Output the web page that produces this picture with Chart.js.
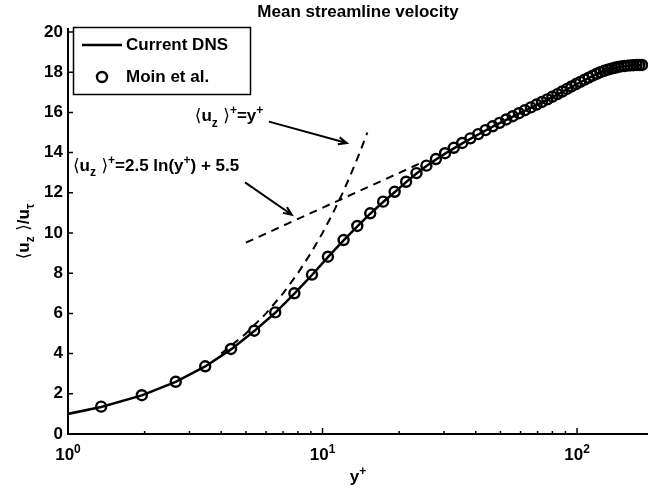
<!DOCTYPE html>
<html>
<head>
<meta charset="utf-8">
<script src="https://cdn.jsdelivr.net/npm/chart.js@4.4.1/dist/chart.umd.min.js"></script>
<style>
  html, body { margin: 0; padding: 0; background: #fff; }
</style>
</head>
<body>
<canvas id="chart" width="648" height="494"></canvas>
<script>
// ==================== DATA ====================

// Current DNS profile: y+ and <u_z>+
const dnsYPlus = [1, 1.35, 1.95, 2.65, 3.46, 4.37, 5.39, 6.52, 7.75, 9.09,
  10.5, 12.1, 13.7, 15.4, 17.3, 19.2, 21.3, 23.4, 25.6, 27.9,
  30.3, 35.4, 40.9, 46.6, 52.7, 59.1, 65.8, 72.8, 80, 87.5,
  95.1, 103, 111.1, 119.4, 127.7, 136.3, 144.9, 153.6, 162.4, 171.2, 180];
const dnsU = [1.0, 1.34, 1.92, 2.59, 3.36, 4.21, 5.12, 6.03, 6.98, 7.91,
  8.80, 9.63, 10.33, 10.96, 11.54, 12.03, 12.53, 12.96, 13.33, 13.66,
  13.95, 14.46, 14.90, 15.29, 15.63, 15.94, 16.23, 16.50, 16.76, 17.02,
  17.27, 17.50, 17.71, 17.90, 18.06, 18.17, 18.25, 18.30, 18.33, 18.35, 18.35];

// Moin et al. reference points
const moinYPlus = [1.35, 1.95, 2.65, 3.46, 4.37, 5.39, 6.52, 7.75, 9.09, 10.5,
  12.1, 13.7, 15.4, 17.3, 19.2, 21.3, 23.4, 25.6, 27.9, 30.3,
  32.8, 35.4, 38.1, 40.9, 43.7, 46.6, 49.6, 52.7, 55.9, 59.1,
  62.4, 65.8, 69.3, 72.8, 76.4, 80.0, 83.7, 87.5, 91.3, 95.1,
  99.1, 103.0, 107.1, 111.1, 115.2, 119.4, 123.5, 127.7, 132.0, 136.3,
  140.6, 144.9, 149.2, 153.6, 158.0, 162.4, 166.8, 171.2, 175.6, 180.0];
const moinU = [1.36, 1.93, 2.60, 3.37, 4.23, 5.14, 6.05, 7.00, 7.93, 8.82,
  9.65, 10.35, 10.98, 11.56, 12.05, 12.55, 12.98, 13.35, 13.68, 13.97,
  14.24, 14.48, 14.71, 14.92, 15.12, 15.31, 15.48, 15.65, 15.81, 15.96,
  16.11, 16.25, 16.39, 16.52, 16.65, 16.78, 16.91, 17.04, 17.17, 17.29,
  17.41, 17.52, 17.63, 17.73, 17.83, 17.92, 18.00, 18.07, 18.13, 18.18,
  18.22, 18.26, 18.29, 18.31, 18.33, 18.34, 18.35, 18.36, 18.36, 18.36];

// Viscous sublayer guide: <u_z>+ = y+
const linearYPlus = [4, 5, 6, 7, 8, 9, 10, 11, 12, 13, 14, 15];
const linearU = [4, 5, 6, 7, 8, 9, 10, 11, 12, 13, 14, 15];

// Log law guide: <u_z>+ = 2.5 ln(y+) + 5.5
const logLawYPlus = [5, 25];
const logLawU = [9.52, 13.55];

// Ticks
const yTicks = [0, 2, 4, 6, 8, 10, 12, 14, 16, 18, 20];
const xMajorTicks = [1, 10, 100];
const xMinorTicks = [2, 3, 4, 5, 6, 7, 8, 9, 20, 30, 40, 50, 60, 70, 80, 90];

// ==================== HELPERS ====================

const FONT = '"Liberation Sans", Arial, Helvetica, sans-serif';
const SIZE = 17;

function toPoints(xs, ys) {
  return xs.map((x, i) => ({ x: x, y: ys[i] }));
}

// parts: [text, kind]  kind = 'n' | 'sub' | 'sup' | 'sym'
function setPartFont(ctx, kind, size) {
  if (kind === 'sym') ctx.font = size + 'px "DejaVu Sans", sans-serif';
  else if (kind === 'sub' || kind === 'sup') ctx.font = 'bold ' + Math.round(size * 0.68) + 'px ' + FONT;
  else ctx.font = 'bold ' + size + 'px ' + FONT;
}

function richWidth(ctx, parts, size) {
  let w = 0;
  parts.forEach(([t, kind]) => { setPartFont(ctx, kind, size); w += ctx.measureText(t).width; });
  return w;
}

function drawRich(ctx, x, y, parts, size) {
  let cx = x;
  ctx.textBaseline = 'alphabetic';
  ctx.textAlign = 'left';
  parts.forEach(([t, kind]) => {
    setPartFont(ctx, kind, size);
    let dy = 0;
    if (kind === 'sub') dy = size * 0.3;
    if (kind === 'sup') dy = -size * 0.42;
    ctx.fillText(t, cx, y + dy);
    cx += ctx.measureText(t).width;
  });
}

function drawArrow(ctx, x1, y1, x2, y2) {
  const a = Math.atan2(y2 - y1, x2 - x1);
  const len = 9, spread = 0.4;
  ctx.beginPath();
  ctx.moveTo(x1, y1);
  ctx.lineTo(x2, y2);
  ctx.moveTo(x2 - len * Math.cos(a - spread), y2 - len * Math.sin(a - spread));
  ctx.lineTo(x2, y2);
  ctx.lineTo(x2 - len * Math.cos(a + spread), y2 - len * Math.sin(a + spread));
  ctx.stroke();
}

// annotations in data coordinates
const notes = [
  { x: 3.15, y: 15.55, parts: [['⟨', 'sym'], ['u', 'n'], ['z', 'sub'], [' ⟩', 'sym'], ['+', 'sup'], ['=y', 'n'], ['+', 'sup']],
    arrow: [6.16, 15.54, 12.45, 14.48] },
  { x: 1.046, y: 13.1, parts: [['⟨', 'sym'], ['u', 'n'], ['z', 'sub'], [' ⟩', 'sym'], ['+', 'sup'], ['=2.5 ln(y', 'n'], ['+', 'sup'], [') + 5.5', 'n']],
    arrow: [4.96, 12.52, 7.57, 10.91] }
];

// ==================== DECORATION PLUGIN ====================

const decorPlugin = {
  id: 'decor',
  afterDraw(chart) {
    const ctx = chart.ctx;
    const xs = chart.scales.x, ys = chart.scales.y, area = chart.chartArea;
    ctx.save();
    ctx.fillStyle = '#000';
    ctx.strokeStyle = '#000';

    // inward tick marks
    ctx.lineWidth = 1.5;
    ctx.beginPath();
    yTicks.forEach(v => {
      const py = ys.getPixelForValue(v);
      ctx.moveTo(area.left, py); ctx.lineTo(area.left + 5, py);
    });
    xMajorTicks.forEach(v => {
      const px = xs.getPixelForValue(v);
      ctx.moveTo(px, area.bottom); ctx.lineTo(px, area.bottom - 6);
    });
    xMinorTicks.forEach(v => {
      const px = xs.getPixelForValue(v);
      ctx.moveTo(px, area.bottom); ctx.lineTo(px, area.bottom - 3);
    });
    ctx.stroke();

    // x tick labels 10^n
    xMajorTicks.forEach(v => {
      const parts = [['10', 'n'], [String(Math.round(Math.log10(v))), 'sup']];
      const w = richWidth(ctx, parts, SIZE);
      drawRich(ctx, xs.getPixelForValue(v) - w / 2, area.bottom + 26, parts, SIZE);
    });

    // axis labels
    const xl = [['y', 'n'], ['+', 'sup']];
    drawRich(ctx, (area.left + area.right) / 2 - richWidth(ctx, xl, SIZE) / 2, area.bottom + 48, xl, SIZE);

    const yl = [['⟨', 'sym'], ['u', 'n'], ['z', 'sub'], [' ⟩', 'sym'], ['/u', 'n'], ['τ', 'sub']];
    ctx.save();
    ctx.translate(29, (area.top + area.bottom) / 2);
    ctx.rotate(-Math.PI / 2);
    drawRich(ctx, -richWidth(ctx, yl, SIZE) / 2, 0, yl, SIZE);
    ctx.restore();

    // title
    const title = [['Mean streamline velocity', 'n']];
    drawRich(ctx, (area.left + area.right) / 2 - richWidth(ctx, title, SIZE) / 2, 17, title, SIZE);

    // annotations + arrows
    ctx.lineWidth = 2;
    notes.forEach(n => {
      drawRich(ctx, xs.getPixelForValue(n.x), ys.getPixelForValue(n.y), n.parts, SIZE);
      const [ax1, ay1, ax2, ay2] = n.arrow;
      drawArrow(ctx, xs.getPixelForValue(ax1), ys.getPixelForValue(ay1),
        xs.getPixelForValue(ax2), ys.getPixelForValue(ay2));
    });

    // legend box
    const lx = area.left + 5, ly = area.top - 2, lw = 177, lh = 67;
    ctx.fillStyle = '#fff';
    ctx.fillRect(lx, ly, lw, lh);
    ctx.lineWidth = 1.5;
    ctx.strokeRect(lx + 0.5, ly + 0.5, lw, lh);
    ctx.fillStyle = '#000';
    ctx.lineWidth = 2.5;
    ctx.beginPath();
    ctx.moveTo(lx + 9, ly + 18); ctx.lineTo(lx + 49, ly + 18);
    ctx.stroke();
    ctx.lineWidth = 2.4;
    ctx.beginPath();
    ctx.arc(lx + 29, ly + 50, 5, 0, Math.PI * 2);
    ctx.stroke();
    ctx.font = 'bold ' + SIZE + 'px ' + FONT;
    ctx.textBaseline = 'middle';
    ctx.fillText('Current DNS', lx + 53, ly + 18);
    ctx.fillText('Moin et al.', lx + 53, ly + 50);

    ctx.restore();
  }
};

// ==================== CHART ====================

const ctx = document.getElementById('chart').getContext('2d');
const chart = new Chart(ctx, {
  type: 'scatter',
  data: {
    datasets: [
      {
        label: 'Current DNS',
        data: toPoints(dnsYPlus, dnsU),
        showLine: true,
        borderColor: '#000',
        borderWidth: 2.5,
        pointRadius: 0,
        tension: 0
      },
      {
        label: 'Moin et al.',
        data: toPoints(moinYPlus, moinU),
        showLine: false,
        pointRadius: 5,
        pointBorderWidth: 2.4,
        pointBorderColor: '#000',
        pointBackgroundColor: 'rgba(0,0,0,0)'
      },
      {
        label: 'y+',
        data: toPoints(linearYPlus, linearU),
        showLine: true,
        borderColor: '#000',
        borderWidth: 2,
        borderDash: [8, 6],
        pointRadius: 0
      },
      {
        label: 'log law',
        data: toPoints(logLawYPlus, logLawU),
        showLine: true,
        borderColor: '#000',
        borderWidth: 2,
        borderDash: [8, 6],
        pointRadius: 0
      }
    ]
  },
  options: {
    responsive: false,
    animation: false,
    layout: { autoPadding: false, padding: { top: 29, right: 0, bottom: 0, left: 0 } },
    plugins: {
      legend: { display: false },
      title: { display: false },
      tooltip: { enabled: false }
    },
    scales: {
      x: {
        type: 'logarithmic',
        min: 1,
        max: 190,
        grid: { display: false, drawTicks: false },
        border: { display: true, color: '#000', width: 2 },
        ticks: { display: false },
        afterBuildTicks: s => { s.ticks = xMajorTicks.concat(xMinorTicks).map(v => ({ value: v })); },
        afterFit: s => { s.height = 60; }
      },
      y: {
        min: 0,
        max: 20.15,
        grid: { display: false, drawTicks: false },
        border: { display: true, color: '#000', width: 2 },
        ticks: {
          color: '#000',
          padding: 5,
          font: { family: FONT, size: SIZE, weight: 'bold' }
        },
        afterBuildTicks: s => { s.ticks = yTicks.map(v => ({ value: v })); },
        afterFit: s => { s.width = 68; }
      }
    }
  },
  plugins: [decorPlugin]
});
</script>
</body>
</html>
